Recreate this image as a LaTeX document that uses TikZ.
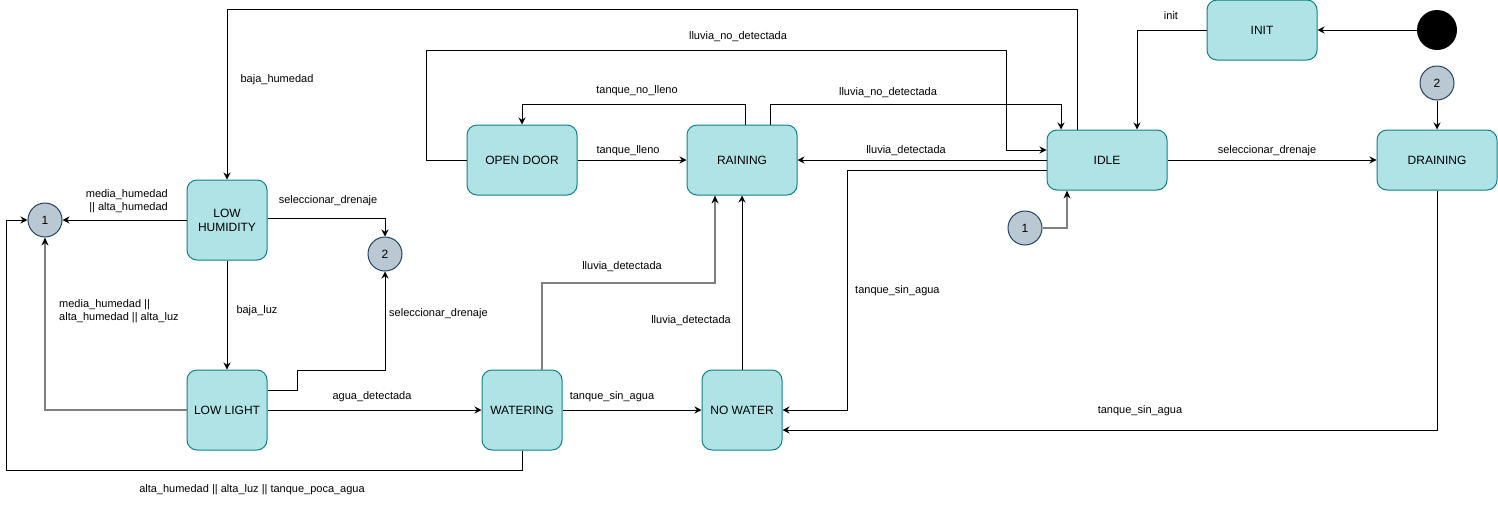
\documentclass[tikz,border=0pt]{standalone}
\usepackage{fontspec}
\setmainfont{Liberation Sans}
\usepackage{tikz}
\usetikzlibrary{arrows.meta}
\definecolor{statefill}{RGB}{176,227,230}
\definecolor{stateline}{RGB}{16,128,136}
\definecolor{conffill}{RGB}{186,200,211}
\definecolor{conline}{RGB}{35,68,93}
\definecolor{grayline}{RGB}{128,128,128}
\begin{document}
\begin{tikzpicture}[x=1pt,y=-1pt]
                \tikzstyle{every node}+=[inner sep=0pt]
                \tikzstyle{state}=[draw=stateline,fill=statefill,line width=1pt,rounded corners=10pt,
                                   align=center,font=\fontsize{12}{14}\selectfont]
                \tikzstyle{bigstate}=[state,minimum width=110pt,minimum height=70pt]
                \tikzstyle{smallstate}=[state,minimum width=80pt,minimum height=80pt]
                \tikzstyle{con}=[circle,draw=conline,fill=conffill,line width=1pt,minimum size=34pt,
                                 font=\fontsize{12}{14}\selectfont]
                \tikzstyle{lbl}=[font=\fontsize{11}{13}\selectfont]
                \tikzstyle{edge}=[draw=black,line width=1pt,-{Stealth[length=7pt,width=7pt]}]
                \tikzstyle{grayedge}=[draw=grayline,line width=2pt,-{Stealth[length=8pt,width=7pt,black,line width=0pt]}]
                \useasboundingbox (0,0) rectangle (1498,507);
                % states
                \node [state,minimum width=110pt,minimum height=60pt] (init) at (1262,30) {INIT};
                \node [circle,fill=black,minimum size=40pt] (start) at (1437,30) {};
                \node [state,minimum width=120pt,minimum height=60pt] (idle) at (1107,160) {IDLE};
                \node [state,minimum width=120pt,minimum height=60pt] (drain) at (1437,160) {DRAINING};
                \node [bigstate] (door) at (522,160) {OPEN DOOR};
                \node [bigstate] (rain) at (742,160) {RAINING};
                \node [smallstate] (lowhum) at (227,220) {LOW\\HUMIDITY};
                \node [smallstate] (lowlight) at (227,410) {LOW LIGHT};
                \node [smallstate] (water) at (522,410) {WATERING};
                \node [smallstate] (nowater) at (742,410) {NO WATER};
                % connectors
                \node [con] (c2a) at (1437,83) {2};
                \node [con] (c1b) at (1025,228) {1};
                \node [con] (c1a) at (45,220) {1};
                \node [con] (c2b) at (385,254) {2};
                % transitions
                \draw [edge] (start) -- (init);
                \draw [edge] (init.west) -| ([xshift=30pt]idle.north);
                \node [lbl] (l1) at (1171,16) {init};
                \draw [edge] (idle) -- (drain);
                \node [lbl] (l2) at (1267,151) {seleccionar\_drenaje};
                \draw [edge] (c2a) -- (drain);
                \draw [edge] (drain.south) |- ([yshift=-20pt]nowater.east);
                \node [lbl] (l3) at (1140,411) {tanque\_sin\_agua};
                \draw [edge] ([yshift=-10pt]idle.west) -| ([xshift=65pt]nowater.east) -- (nowater.east);
                \node [lbl,anchor=west] (l4) at (855,291) {tanque\_sin\_agua};
                \draw [edge] (idle) -- (rain);
                \node [lbl] (l5) at (906,151) {lluvia\_detectada};
                \draw [edge] ([xshift=28pt]rain.north) -- ++(0,-20) -| ([xshift=-46pt]idle.north);
                \node [lbl] (l6) at (888,93) {lluvia\_no\_detectada};
                \draw [edge] (door.west) -- ++(-40,0) -- ++(0,-110) -| ([xshift=-40pt,yshift=10pt]idle.west)
                             -- ([yshift=10pt]idle.west);
                \node [lbl] (l7) at (738,37) {lluvia\_no\_detectada};
                \draw [edge] ([xshift=-30pt]idle.north) -- ++(0,-120) -| (lowhum.north);
                \node [lbl] (l8) at (277,80) {baja\_humedad};
                \draw [edge] ([xshift=3pt]rain.north) -- ++(0,-20) -| (door.north);
                \node [lbl] (l9) at (637,91) {tanque\_no\_lleno};
                \draw [edge] (door) -- (rain);
                \node [lbl] (l10) at (628,151) {tanque\_lleno};
                \draw [grayedge] (c1b) -| ([xshift=-40pt]idle.south);
                \draw [edge] (lowhum) -- (c1a);
                \node [lbl,align=right,anchor=east] (l11) at (168,201) {media\_humedad\\|| alta\_humedad};
                \draw [edge] ([yshift=2pt]lowhum.east) -| (c2b.north);
                \node [lbl] (l12) at (328,201) {seleccionar\_drenaje};
                \draw [edge] (lowhum) -- (lowlight);
                \node [lbl] (l13) at (257,311) {baja\_luz};
                \draw [edge] ([yshift=20pt]lowlight.east) -- ++(30,0) -- ++(0,-20) -| (c2b.south);
                \node [lbl,anchor=west] (l14) at (389,314) {seleccionar\_drenaje};
                \draw [grayedge] (lowlight.west) -| (c1a.south);
                \node [lbl,align=left,anchor=west] (l15) at (59,311) {media\_humedad ||\\alta\_humedad || alta\_luz};
                \draw [edge] (lowlight) -- (water);
                \node [lbl] (l16) at (372,397) {agua\_detectada};
                \draw [edge] (water.south) -- ++(0,20) -| ([xshift=-21pt]c1a.west) -- (c1a.west);
                \node [lbl] (l17) at (252,490) {alta\_humedad || alta\_luz || tanque\_poca\_agua};
                \draw [grayedge] ([xshift=20pt]water.north) -- ++(0,-87) -| ([xshift=-27pt]rain.south);
                \node [lbl] (l18) at (622,267) {lluvia\_detectada};
                \draw [edge] (nowater) -- (rain);
                \node [lbl] (l19) at (691,321) {lluvia\_detectada};
                \draw [edge] (water) -- (nowater);
                \node [lbl] (l20) at (612,397) {tanque\_sin\_agua};
            \end{tikzpicture}
\end{document}
